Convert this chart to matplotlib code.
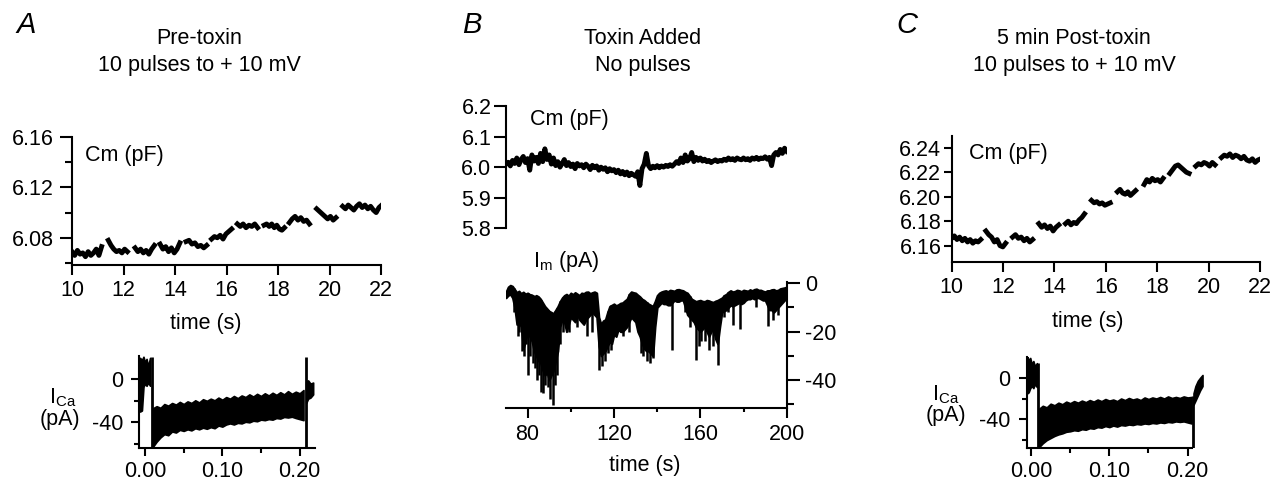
import numpy as np
import matplotlib
matplotlib.use("Agg")
import matplotlib.pyplot as plt
from matplotlib.ticker import FixedLocator

plt.rcParams['font.family'] = ['Liberation Sans', 'DejaVu Sans']
plt.rcParams['mathtext.fontset'] = 'custom'
plt.rcParams['mathtext.rm'] = 'Liberation Sans'
plt.rcParams['mathtext.it'] = 'Liberation Sans:italic'
plt.rcParams['axes.unicode_minus'] = False

W, H = 1271, 484
FS = 15.5

# ---------------- data ----------------
# panel A, membrane capacitance between pulses (pF), segments (start, end) in s
segA_t = [(10.0, 11.15), (11.41, 12.15), (12.45, 13.2), (13.42, 14.19), (14.43, 15.23),
          (15.42, 16.2), (16.42, 17.21), (17.46, 18.25), (18.44, 19.22), (19.5, 20.25),
          (20.51, 22.03)]
segA_cm = [
    [6.069, 6.066, 6.070, 6.067, 6.068, 6.065, 6.069, 6.066, 6.068, 6.071, 6.066, 6.073],
    [6.078, 6.074, 6.071, 6.069, 6.070, 6.068, 6.071, 6.069],
    [6.072, 6.069, 6.071, 6.068, 6.070, 6.067, 6.071, 6.074],
    [6.075, 6.071, 6.073, 6.069, 6.072, 6.068, 6.071, 6.076],
    [6.077, 6.078, 6.075, 6.076, 6.073, 6.074, 6.072, 6.074],
    [6.079, 6.081, 6.080, 6.082, 6.079, 6.083, 6.085, 6.087],
    [6.091, 6.089, 6.091, 6.088, 6.090, 6.089, 6.091, 6.088],
    [6.090, 6.091, 6.089, 6.091, 6.088, 6.090, 6.087, 6.086, 6.088],
    [6.092, 6.095, 6.097, 6.094, 6.096, 6.093, 6.094, 6.091],
    [6.103, 6.101, 6.099, 6.097, 6.095, 6.097, 6.094, 6.096],
    [6.105, 6.103, 6.106, 6.104, 6.102, 6.105, 6.107, 6.104, 6.106, 6.103, 6.105,
     6.102, 6.100, 6.104, 6.106],
]

# panel C, same protocol 5 min after toxin
segC_t = [(10.0, 11.13), (11.33, 12.1), (12.37, 13.15), (13.39, 14.17), (14.43, 15.17),
          (15.44, 16.17), (16.45, 17.16), (17.49, 18.23), (18.49, 19.24), (19.5, 20.25),
          (20.5, 22.03)]
segC_cm = [
    [6.166, 6.168, 6.165, 6.167, 6.164, 6.166, 6.163, 6.165, 6.162, 6.164, 6.163, 6.165],
    [6.172, 6.169, 6.167, 6.163, 6.165, 6.160, 6.159, 6.162],
    [6.167, 6.169, 6.166, 6.167, 6.164, 6.166, 6.163, 6.165],
    [6.178, 6.175, 6.177, 6.174, 6.176, 6.172, 6.175, 6.177],
    [6.178, 6.180, 6.177, 6.179, 6.178, 6.181, 6.183, 6.186],
    [6.197, 6.195, 6.196, 6.194, 6.195, 6.193, 6.194, 6.195],
    [6.204, 6.206, 6.203, 6.202, 6.204, 6.201, 6.203, 6.205],
    [6.210, 6.214, 6.212, 6.215, 6.213, 6.214, 6.212, 6.215],
    [6.219, 6.222, 6.225, 6.226, 6.224, 6.222, 6.220, 6.219],
    [6.225, 6.227, 6.226, 6.228, 6.227, 6.225, 6.228, 6.226],
    [6.232, 6.234, 6.233, 6.235, 6.232, 6.234, 6.233, 6.231, 6.233, 6.230, 6.229,
     6.231, 6.228, 6.230, 6.231],
]

# panel B, capacitance trace sampled every 1 s from 70 to 200 s
cmB_t = np.arange(70, 201, 1)
cmB = [6.010, 6.016, 6.004, 6.022, 6.012, 6.030, 6.008, 6.025, 6.035, 6.015,
       6.028, 5.990, 6.040, 6.020, 6.032, 6.012, 6.045, 6.018, 6.060, 6.025,
       6.040, 6.010, 6.030, 6.005, 6.018, 6.000, 6.012, 6.025, 6.005, 6.015,
       6.002, 6.010, 5.995, 6.012, 6.004, 6.008, 5.998, 6.010, 6.003, 5.992,
       6.006, 5.998, 6.004, 5.990, 6.000, 5.993, 5.998, 5.985, 5.995, 5.988,
       5.992, 5.982, 5.990, 5.978, 5.986, 5.975, 5.984, 5.972, 5.980, 5.975,
       5.970, 5.985, 5.940, 5.995, 6.010, 6.045, 6.005, 5.995, 6.003, 5.998,
       6.005, 5.998, 6.004, 6.000, 6.006, 6.002, 6.008, 6.003, 6.010, 6.018,
       6.012, 6.030, 6.015, 6.040, 6.020, 6.028, 6.048, 6.018, 6.032, 6.022,
       6.030, 6.020, 6.026, 6.018, 6.022, 6.015, 6.020, 6.024, 6.018, 6.022,
       6.020, 6.026, 6.022, 6.030, 6.024, 6.028, 6.022, 6.030, 6.026, 6.024,
       6.030, 6.024, 6.028, 6.022, 6.030, 6.026, 6.032, 6.025, 6.030, 6.028,
       6.034, 6.026, 6.032, 6.005, 6.040, 6.048, 6.040, 6.058, 6.045, 6.062,
       6.052]

# panel B, holding current (pA): upper / lower envelope every 1 s plus brief events
imB_t = np.arange(70, 201, 1)
imB_top = [-3.5, -1.5, -0.8, -1.2, -2.5, -3.8, -3.2, -4.2, -3.6, -4.4,
           -4.0, -4.6, -4.8, -5.5, -5.0, -5.5, -6.5, -8.0, -9.5, -10.5,
           -11.5, -12.0, -12.5, -11.0, -9.5, -7.5, -6.0, -5.0, -4.5, -5.2,
           -4.0, -4.6, -3.8, -4.4, -5.0, -4.0, -4.2, -3.6, -3.5, -4.2,
           -3.8, -3.5, -4.0, -14.0, -17.0, -15.5, -15.0, -12.0, -9.5, -9.0,
           -8.5, -9.2, -8.8, -8.2, -8.0, -7.2, -6.5, -4.5, -3.5, -3.8,
           -4.0, -4.8, -5.5, -6.5, -7.0, -7.8, -8.5, -9.0, -9.5, -7.5,
           -5.0, -4.0, -3.5, -3.2, -3.0, -3.4, -2.8, -3.0, -3.2, -2.6,
           -2.5, -2.8, -3.0, -3.6, -4.0, -5.2, -6.5, -7.0, -7.5, -7.2,
           -7.0, -7.4, -7.5, -7.0, -7.2, -7.6, -7.8, -7.3, -7.0, -6.5,
           -6.0, -5.0, -4.5, -3.6, -3.0, -3.5, -3.3, -2.8, -3.0, -3.4,
           -2.8, -3.0, -3.2, -2.6, -3.0, -2.5, -2.3, -2.8, -2.8, -3.2,
           -3.5, -3.0, -3.0, -2.6, -2.5, -3.0, -2.8, -2.2, -2.0, -1.8,
           -1.5]
imB_bot = [-6, -5, -4.5, -6, -10, -17, -16, -18, -27, -24,
           -20, -22, -24, -28, -30, -32, -33, -36, -38, -37,
           -40, -38, -36, -32, -28, -18, -15, -16, -20, -17,
           -14, -15, -16, -13, -15, -16, -17, -15, -14, -13,
           -12, -13, -14, -26, -30, -29, -28, -26, -24, -25,
           -21, -22, -19, -20, -20, -19, -18, -16, -14, -15,
           -16, -20, -22, -25, -27, -28, -28, -29, -30, -18,
           -10, -9, -8, -8.5, -8.5, -9, -9, -8, -7, -7.5,
           -7.5, -7, -7, -10, -13, -14, -15, -16, -18, -19,
           -20, -19, -18, -20, -22, -20, -19, -23, -25, -18,
           -12, -11.5, -11, -10, -9, -9.5, -9, -8.5, -8, -8.5,
           -8, -7, -6.5, -6.5, -6, -6.5, -6, -6, -6.5, -7,
           -7, -9, -11, -11, -12, -11, -10, -9, -8, -7,
           -6]
spkB_t = [73.5, 75.5, 76.2, 77.5, 78.3, 79.2, 80.0, 81.0, 82.3, 83.4, 84.5, 85.5,
          86.3, 87.3, 88.2, 89.5, 90.4, 91.6, 92.7, 93.6, 95.0, 96.5, 99.4, 103.0,
          107.7, 109.6, 113.3, 114.5, 116.0, 117.2, 118.8, 121.9, 124.0, 127.0,
          132.5, 133.5, 135.2, 136.8, 138.1, 146.9, 153.0, 155.0, 157.9, 159.2,
          160.5, 162.0, 164.0, 166.0, 168.3, 171.0, 173.0, 175.2, 178.5, 186.0,
          191.2, 193.5, 196.0]
spkB_v = [-12, -22, -20, -28, -30, -25, -38, -30, -33, -35, -40, -38,
          -45, -45.5, -42, -43, -48, -50.3, -42, -38, -25, -20, -20, -18,
          -22, -20, -36, -34, -32, -29, -27.6, -17, -22, -20,
          -29, -30, -32, -33, -31, -27.6, -12, -18, -31.7, -26,
          -24, -24, -27.6, -26, -33.6, -14, -12, -17.2, -19, -10,
          -17.8, -15, -13]

# Ca current during the pulses (pA), envelope of the 10 overlaid sweeps
band_t = np.arange(0.010, 0.2051, 0.005)
bandA_top = [-27, -25, -26.5, -23, -24.5, -22, -23.5, -21, -23, -20.5,
             -22, -19.5, -21.5, -18.5, -20, -18, -19.5, -17, -19, -16.5,
             -18, -15.5, -17.5, -15, -16.5, -14, -16, -13.5, -15.5, -13,
             -15, -12.5, -14.5, -12, -14, -11, -13.5, -11.5, -13, -10]
bandA_bot = [-63, -58, -54, -51, -52, -48.5, -49.5, -47, -48, -46.5,
             -47.5, -45.5, -46.5, -45, -46, -44.5, -45.5, -43, -44, -42,
             -41, -42, -40.5, -41, -39.5, -40, -38.5, -39, -37.5, -38,
             -37, -37.5, -36, -36.5, -35, -35.5, -34.8, -36, -37, -38]
bandC_top = [-30, -27, -28.5, -25, -26.5, -24, -25.5, -23, -24.5, -22.5,
             -24, -22, -23.5, -21.5, -23, -21, -22.5, -20.5, -22, -21,
             -22.5, -20, -21.5, -19.5, -21, -20, -21.5, -19, -20.5, -19,
             -20, -18.5, -20, -18, -19.5, -18.5, -19.5, -18, -19, -18.5]
bandC_bot = [-67, -63, -60, -58, -56, -54.5, -53.5, -52, -51.5, -50.5,
             -51, -49.5, -50, -48.5, -49, -47.5, -48, -46.5, -47.5, -46,
             -47, -45.5, -46, -45, -45.5, -44.5, -45, -44, -44.5, -43.5,
             -44, -43, -43.5, -42.5, -43, -42, -42.5, -42, -43, -44]
# before the pulse and after it (tail)
preA_t = [-0.0065, -0.004, -0.002, 0.000, 0.002, 0.004, 0.0065]
preA_top = [20, 18, 21, 16, 19, 12, 20]
preA_bot = [-30, -29, -7, -4, -6, -3, -6]
tailA_t = [0.2085, 0.211, 0.214, 0.2175]
tailA_top = [-2, -1, -4, -3]
tailA_bot = [-22, -18, -17, -14]
preC_t = [-0.0047, -0.003, -0.001, 0.001, 0.003, 0.005, 0.0075]
preC_top = [20, 17, 19, 13, 16, 11, 14]
preC_bot = [-15, -14, -10, -8, -10, -6, -9]
tailC_t = [0.2075, 0.210, 0.213, 0.216, 0.219]
tailC_top = [-15, -8, -3, 0, 2.6]
tailC_bot = [-26, -22, -17, -12, -8]
# pulse edges: (time, top, bottom)
edgesA = [(0.009, 21, -63.6), (0.208, 21, -63.6)]
edgesC = [(0.0086, 14, -67.3), (0.2072, -18, -67.3)]

# ---------------- figure ----------------
fig = plt.figure(figsize=(W / 100, H / 100), dpi=100)


def rect(l, r, t, b):
    return [l / W, 1 - b / H, (r - l) / W, (b - t) / H]


def ftext(x, y, s, **kw):
    kw.setdefault('fontsize', FS)
    kw.setdefault('ha', 'center')
    kw.setdefault('va', 'center')
    fig.text(x / W, 1 - y / H, s, **kw)


def style(ax, show):
    for side in ['left', 'right', 'top', 'bottom']:
        ax.spines[side].set_visible(side in show)
        ax.spines[side].set_linewidth(1.5)
    ax.tick_params(which='both', direction='out', width=1.5, labelsize=FS, color='k')
    ax.patch.set_alpha(0)


def cm_panel(ax, segs_t, segs_v):
    for (t0, t1), vals in zip(segs_t, segs_v):
        ax.plot(np.linspace(t0, t1, len(vals)), vals, color='k', lw=3.5)
    ax.set_xlim(10, 22)
    ax.xaxis.set_major_locator(FixedLocator([10, 12, 14, 16, 18, 20, 22]))
    ax.tick_params(axis='x', which='major', length=7, pad=4)


# A top
axA = fig.add_axes(rect(72, 381, 137, 265))
style(axA, ['left', 'bottom'])
cm_panel(axA, segA_t, segA_cm)
axA.set_ylim(6.0584, 6.16)
axA.yaxis.set_major_locator(FixedLocator([6.08, 6.12, 6.16]))
axA.yaxis.set_minor_locator(FixedLocator([6.06, 6.10, 6.14]))
axA.yaxis.set_major_formatter(lambda v, p: f'{v:.2f}')
axA.tick_params(axis='y', which='major', length=9, pad=4)
axA.tick_params(axis='y', which='minor', length=5)

# C top
axC = fig.add_axes(rect(951.7, 1260, 136, 261.7))
style(axC, ['left', 'bottom'])
cm_panel(axC, segC_t, segC_cm)
axC.set_ylim(6.1469, 6.2496)
axC.yaxis.set_major_locator(FixedLocator([6.16, 6.18, 6.20, 6.22, 6.24]))
axC.yaxis.set_major_formatter(lambda v, p: f'{v:.2f}')
axC.tick_params(axis='y', which='major', length=6, pad=1.5)

# B top (Cm)
axBc = fig.add_axes(rect(506, 786.7, 106, 228.3))
style(axBc, ['left'])
axBc.plot(cmB_t, cmB, color='k', lw=3.5)
axBc.set_xlim(70, 200)
axBc.set_ylim(5.8, 6.2)
axBc.set_xticks([])
axBc.yaxis.set_major_locator(FixedLocator([5.8, 5.9, 6.0, 6.1, 6.2]))
axBc.yaxis.set_major_formatter(lambda v, p: f'{v:.1f}')
axBc.tick_params(axis='y', length=8.5, pad=2)

# B bottom (Im)
axBi = fig.add_axes(rect(506, 786.7, 281.7, 408.3))
style(axBi, ['right', 'bottom'])
axBi.fill_between(imB_t, imB_top, imB_bot, color='k', lw=1.5)
axBi.vlines(spkB_t, np.interp(spkB_t, imB_t, imB_top), spkB_v, color='k', lw=1.8)
axBi.set_xlim(70, 200)
axBi.set_ylim(-51.7, 0.66)
axBi.yaxis.tick_right()
axBi.yaxis.set_major_locator(FixedLocator([-40, -20, 0]))
axBi.yaxis.set_minor_locator(FixedLocator([-50, -30, -10]))
axBi.xaxis.set_major_locator(FixedLocator([80, 120, 160, 200]))
axBi.xaxis.set_minor_locator(FixedLocator([100, 140, 180]))
axBi.tick_params(axis='y', which='major', length=9.5, pad=4)
axBi.tick_params(axis='y', which='minor', length=5)
axBi.tick_params(axis='x', which='major', length=7.5, pad=4)
axBi.tick_params(axis='x', which='minor', length=3)


def ica_panel(ax, top, bot, pre, tail, edges):
    ax.fill_between(band_t, top, bot, color='k', lw=1.2)
    ax.fill_between(pre[0], pre[1], pre[2], color='k', lw=1.2)
    ax.fill_between(tail[0], tail[1], tail[2], color='k', lw=1.2)
    for t, a, b in edges:
        ax.vlines(t, b, a, color='k', lw=2.0)
    ax.yaxis.set_major_locator(FixedLocator([-40, 0]))
    ax.yaxis.set_minor_locator(FixedLocator([-60, -20]))
    ax.xaxis.set_major_locator(FixedLocator([0.0, 0.1, 0.2]))
    ax.xaxis.set_minor_locator(FixedLocator([0.05, 0.15]))
    ax.xaxis.set_major_formatter(lambda v, p: f'{v:.2f}')
    ax.tick_params(axis='y', which='major', length=5.5, pad=6)
    ax.tick_params(axis='y', which='minor', length=3.5)
    ax.tick_params(axis='x', which='major', length=5.5, pad=4)
    ax.tick_params(axis='x', which='minor', length=3.5)


axAi = fig.add_axes(rect(139.3, 315, 356, 447.7))
style(axAi, ['left', 'bottom'])
ica_panel(axAi, bandA_top, bandA_bot, (preA_t, preA_top, preA_bot),
          (tailA_t, tailA_top, tailA_bot), edgesA)
axAi.set_xlim(-0.0074, 0.2199)
axAi.set_ylim(-63.6, 21.7)

axCi = fig.add_axes(rect(1026.7, 1204, 356.7, 447.7))
style(axCi, ['left', 'bottom'])
ica_panel(axCi, bandC_top, bandC_bot, (preC_t, preC_top, preC_bot),
          (tailC_t, tailC_top, tailC_bot), edgesC)
axCi.set_xlim(-0.0055, 0.2209)
axCi.set_ylim(-67.3, 20.2)
axCi.spines['bottom'].set_bounds(-0.0055, 0.206)

# ---------------- text ----------------
ftext(26, 25, 'A', fontsize=21, style='italic')
ftext(472, 25, 'B', fontsize=21, style='italic')
ftext(907, 25, 'C', fontsize=21, style='italic')

ftext(199, 39, 'Pre-toxin')
ftext(199, 65, '10 pulses to + 10 mV')
ftext(643, 39, 'Toxin Added')
ftext(643, 65, 'No pulses')
ftext(1074, 39, '5 min Post-toxin')
ftext(1074, 65, '10 pulses to + 10 mV')

ftext(85, 156, 'Cm (pF)', ha='left')
ftext(530, 119, 'Cm (pF)', ha='left')
ftext(969, 153, 'Cm (pF)', ha='left')
ftext(533, 262, r'I$_\mathrm{m}$ (pA)', ha='left')

ftext(206, 324, 'time (s)')
ftext(1088, 321, 'time (s)')
ftext(645, 466, 'time (s)')

ftext(63, 398, r'I$_\mathrm{Ca}$')
ftext(60, 419, '(pA)')
ftext(946, 395, r'I$_\mathrm{Ca}$')
ftext(946, 416, '(pA)')

fig.savefig('out.png', dpi=100)
